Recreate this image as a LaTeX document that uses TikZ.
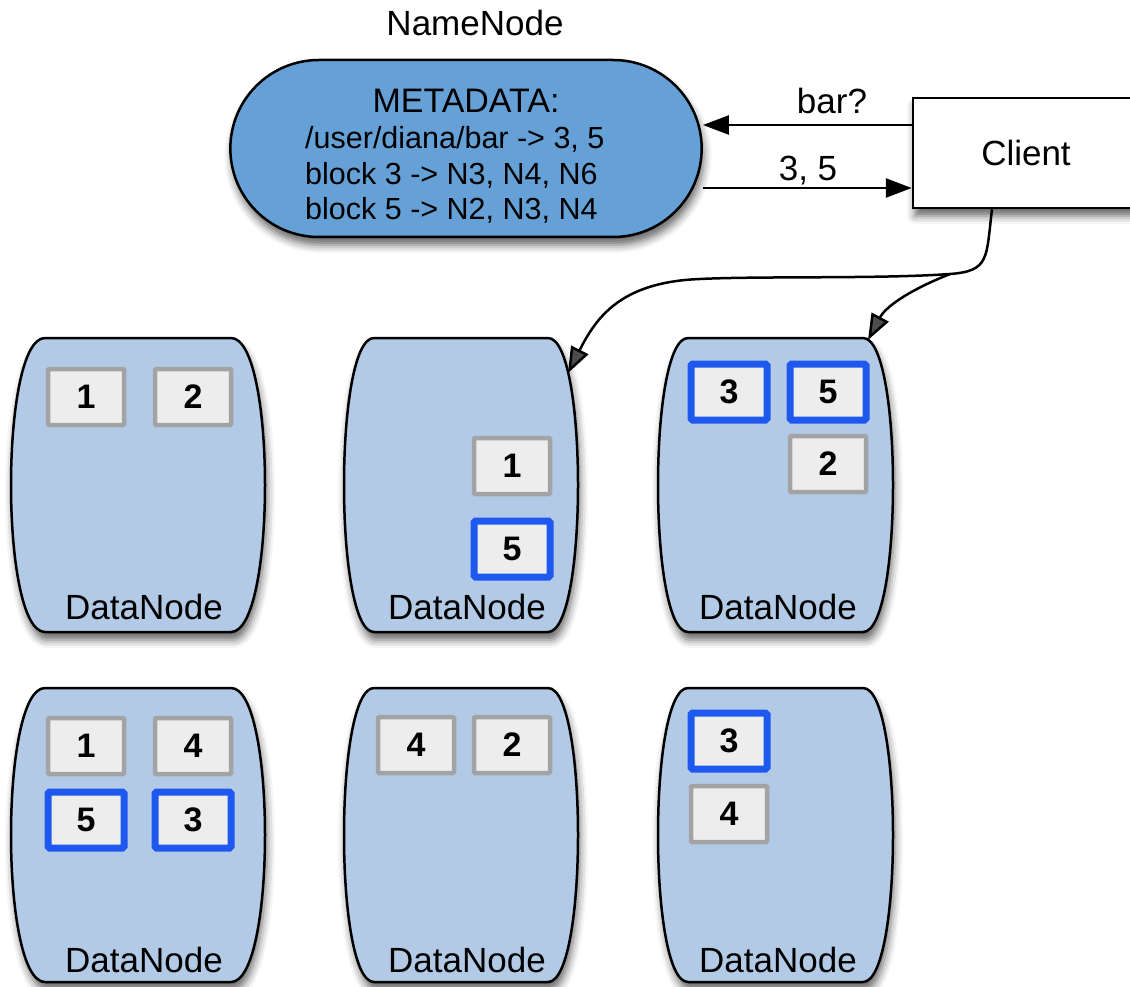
\documentclass[tikz,border=0pt]{standalone}
\usepackage{fontspec}
\setmainfont{Liberation Sans}
\usetikzlibrary{arrows.meta,shapes.misc,shadows.blur,calc}
\definecolor{nnblue}{RGB}{101,161,214}
\definecolor{dnblue}{RGB}{179,202,230}
\definecolor{blkfill}{RGB}{237,237,237}
\definecolor{blkgray}{RGB}{163,163,166}
\definecolor{blkblue}{RGB}{30,88,238}
\tikzset{
  shad/.style={blur shadow={shadow xshift=2pt, shadow yshift=-8pt, shadow blur radius=8pt, shadow opacity=60}},
  lbl/.style={font=\fontsize{35}{40}\selectfont, inner sep=0pt},
  meta/.style={font=\fontsize{30.5}{36}\selectfont, inner sep=0pt},
  blk/.style={minimum width=76pt, minimum height=56pt, fill=blkfill, inner sep=0pt, font=\fontsize{34}{38}\selectfont\bfseries},
  gblk/.style={blk, draw=blkgray, line width=4.5pt, rounded corners=1pt},
  bblk/.style={blk, draw=blkblue, line width=7pt, rounded corners=1.5pt},
  arr/.style={line width=2.5pt, -{Triangle[length=26pt,width=19pt]}},
  dnshape/.style={draw=black, line width=2.5pt, fill=dnblue, shad},
}
% name, left, right, top, bottom, inset
\newcommand\DNshape[6]{%
  \path[dnshape]
    ({#2+#6},#4) coordinate (#1-tl) -- ({#3-#6},#4) coordinate (#1-tr)
    .. controls ({#3+#6/3},#4) and ({#3+#6/3},#5) .. ({#3-#6},#5) coordinate (#1-br)
    -- ({#2+#6},#5) coordinate (#1-bl)
    .. controls ({#2-#6/3},#5) and ({#2-#6/3},#4) .. cycle;
}
\begin{document}
\begin{tikzpicture}[x=1pt,y=-1pt]
\useasboundingbox (0,0) rectangle (1130,987);
\clip (0,0) rectangle (1130,987);

% NameNode
\node[lbl] (nnlabel) at (475,23) {NameNode};
\node[rounded rectangle, draw, line width=2.5pt, fill=nnblue, shad,
      minimum width=478pt, minimum height=177pt] (nn) at (466,148.5) {};
\node[font=\fontsize{34}{40}\selectfont, inner sep=0pt] (meta0) at (466,101) {METADATA:};
\node[meta, anchor=west] (meta1) at (305,139) {/user/diana/bar -> 3, 5};
\node[meta, anchor=west] (meta2) at (305,175) {block 3 -> N3, N4, N6};
\node[meta, anchor=west] (meta3) at (305,210) {block 5 -> N2, N3, N4};

% Client
\node[draw, line width=2.5pt, fill=white, shad, minimum width=226pt, minimum height=110pt, lbl] (client) at (1026,153) {Client};

\coordinate (r1) at (0,125);
\coordinate (r2) at (0,188);
\draw[arr] (client.west |- r1) -- (nn.east |- r1);
\draw[arr] (nn.east |- r2) -- (client.west |- r2);
\node[lbl] (lbar) at (832,101) {bar?};
\node[lbl] (l35) at (808,171) {3, 5};

% DataNodes
\DNshape{dn1}{11}{265}{338}{632}{34}
\DNshape{dn2}{344}{578}{338}{632}{30}
\DNshape{dn3}{658}{893}{338}{632}{30}
\DNshape{dn4}{11}{265}{688}{982}{34}
\DNshape{dn5}{344}{578}{688}{982}{30}
\DNshape{dn6}{658}{893}{688}{982}{30}

\node[lbl] (dn1l) at (144,607) {DataNode};
\node[lbl] (dn2l) at (467,607) {DataNode};
\node[lbl] (dn3l) at (778,607) {DataNode};
\node[lbl] (dn4l) at (144,960) {DataNode};
\node[lbl] (dn5l) at (467,960) {DataNode};
\node[lbl] (dn6l) at (778,960) {DataNode};

% blocks
\node[gblk] (b11) at (86,397) {1};
\node[gblk] (b12) at (193,397) {2};

\node[gblk] (b21) at (512,466) {1};
\node[bblk] (b25) at (512,549) {5};

\node[bblk] (b33) at (729,392) {3};
\node[bblk] (b35) at (828,392) {5};
\node[gblk] (b32) at (828,464) {2};

\node[gblk] (b41) at (86,746) {1};
\node[gblk] (b44) at (193,746) {4};
\node[bblk] (b45) at (86,820) {5};
\node[bblk] (b43) at (193,820) {3};

\node[gblk] (b54) at (416,745) {4};
\node[gblk] (b52) at (512,745) {2};

\node[bblk] (b63) at (729,741) {3};
\node[gblk] (b64) at (729,814) {4};

% client -> datanodes
\coordinate (split) at (950,274);
\coordinate (bend) at (700,279);
\coordinate (hit2) at (568,373);
\coordinate (hit3) at (868,340);
\draw[arr] ([xshift=-34pt]client.south) .. controls (986,258) and (990,271) .. (split)
  .. controls (880,279) and (760,276) .. (bend)
  .. controls (620,282) and (596,318) .. (hit2);
\draw[arr] (split) .. controls (905,292) and (885,308) .. (hit3);
\end{tikzpicture}
\end{document}
